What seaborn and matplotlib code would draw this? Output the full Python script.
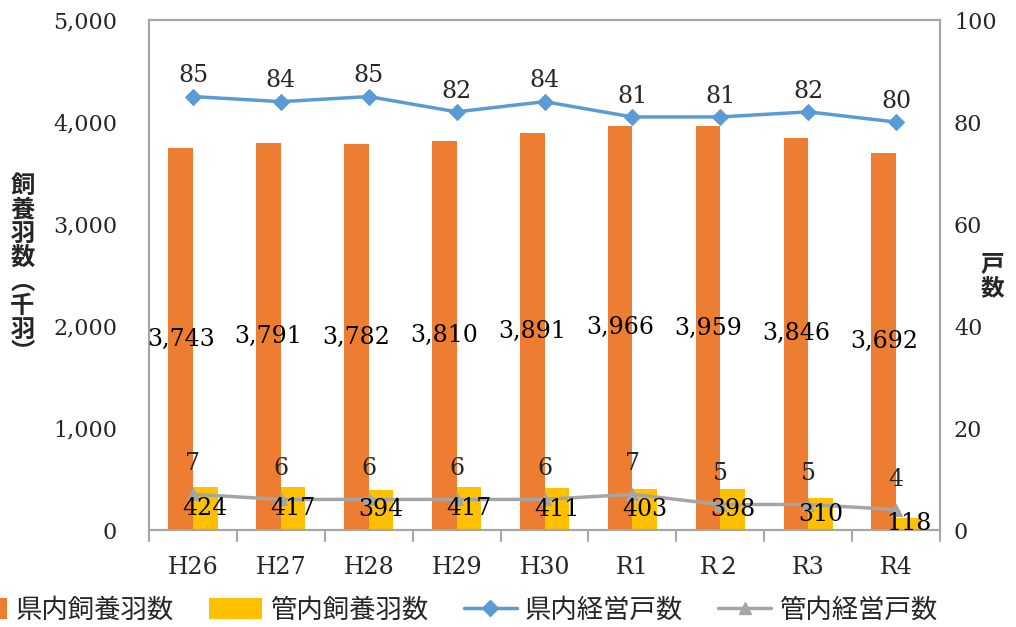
import numpy as np
import pandas as pd
import matplotlib
matplotlib.use("Agg")
import matplotlib.pyplot as plt
import seaborn as sns
from matplotlib.patches import Patch
from matplotlib.lines import Line2D

categories = ["H26", "H27", "H28", "H29", "H30", "R1", "R２", "R3", "R4"]
pref_birds = [3743, 3791, 3782, 3810, 3891, 3966, 3959, 3846, 3692]
local_birds = [424, 417, 394, 417, 411, 403, 398, 310, 118]
pref_farms = [85, 84, 85, 82, 84, 81, 81, 82, 80]
local_farms = [7, 6, 6, 6, 6, 7, 5, 5, 4]
series_names = ["県内飼養羽数", "管内飼養羽数", "県内経営戸数", "管内経営戸数"]

C_OR = "#ED7D31"
C_YE = "#FFC000"
C_BL = "#5B9BD5"
C_GR = "#A5A5A5"
SPINE = "#A6A6A6"

sns.set_theme(style="white")
NUMF = ["DejaVu Serif", "Noto Sans CJK JP"]
JPF = ["Noto Sans CJK JP", "DejaVu Sans"]
plt.rcParams["font.family"] = NUMF

fig = plt.figure(figsize=(10.16, 6.27), dpi=100)
ax = fig.add_axes([0.1467, 0.1547, 0.7785, 0.8133])

df = pd.DataFrame({
    "cat": categories * 2,
    "val": pref_birds + local_birds,
    "series": [series_names[0]] * 9 + [series_names[1]] * 9,
})
sns.barplot(data=df, x="cat", y="val", hue="series", order=categories,
            hue_order=series_names[:2], palette=[C_OR, C_YE], width=0.56,
            saturation=1, ax=ax, legend=False, edgecolor="none")
ax.set_ylim(0, 5000)
ax.set_xlim(-0.5, len(categories) - 0.5)
ax.set_yticks(np.arange(0, 5001, 1000))
ax.set_yticklabels([f"{v:,}" for v in range(0, 5001, 1000)], fontsize=16)
ax.set_xticks(range(len(categories)))
ax.set_xticklabels(categories, fontsize=17)
ax.set_xlabel("")
ax.set_ylabel("")
ax.tick_params(axis="y", length=0, pad=23)
ax.tick_params(axis="x", length=0, pad=19)
for b in np.arange(-0.5, len(categories), 1.0):
    ax.plot([b, b], [0, -0.022], transform=ax.get_xaxis_transform(),
            color=SPINE, lw=1.5, clip_on=False)
for s in ax.spines.values():
    s.set_color(SPINE)
    s.set_linewidth(1.5)

ax2 = ax.twinx()
xs = np.arange(len(categories))
sns.lineplot(x=xs, y=pref_farms, ax=ax2, color=C_BL, lw=2.5, marker="D",
             markersize=8, markeredgecolor=C_BL)
sns.lineplot(x=xs, y=local_farms, ax=ax2, color=C_GR, lw=2.5, marker="^",
             markersize=9, markeredgecolor=C_GR)
ax2.set_ylim(0, 100)
ax2.set_yticks(np.arange(0, 101, 20))
ax2.set_yticklabels([str(v) for v in range(0, 101, 20)], fontsize=16)
ax2.tick_params(axis="y", length=0, pad=10)
ax2.set_ylabel("")
for s in ax2.spines.values():
    s.set_color(SPINE)
    s.set_linewidth(1.5)

# bar labels (drawn above the lines)
for cont, vals in zip(ax.containers, [pref_birds, local_birds]):
    for rect, v in zip(cont, vals):
        ax2.text(rect.get_x() + rect.get_width() / 2, v / 2, f"{v:,}",
                 transform=ax.transData, ha="center", va="center",
                 fontsize=17, color="black", zorder=10)

for x, v in zip(xs, pref_farms):
    ax2.annotate(str(v), (x, v), xytext=(0, 15), textcoords="offset points",
                 ha="center", va="center", fontsize=17, zorder=10)
for x, v in zip(xs, local_farms):
    ax2.annotate(str(v), (x, v), xytext=(0, 22), textcoords="offset points",
                 ha="center", va="center", fontsize=17, zorder=10)

# axis titles (vertical)
fig.text(0.022, 0.57, "\n".join("飼養羽数︵千羽︶"), ha="center", va="center",
         fontsize=17.5, fontweight="bold", family=JPF, linespacing=1.0)
fig.text(0.977, 0.56, "戸\n数", ha="center", va="center",
         fontsize=17, fontweight="bold", family=JPF, linespacing=1.0)

handles = [
    Patch(facecolor=C_OR, edgecolor="none"),
    Patch(facecolor=C_YE, edgecolor="none"),
    Line2D([], [], color=C_BL, lw=2.5, marker="D", markersize=8),
    Line2D([], [], color=C_GR, lw=2.5, marker="^", markersize=9),
]
leg = fig.legend(handles, series_names, loc="center", bbox_to_anchor=(0.439, 0.027),
                 ncol=4, frameon=False, prop={"family": JPF, "size": 19},
                 handlelength=2.0, handleheight=0.9, columnspacing=1.35,
                 handletextpad=0.3)

fig.savefig("out.png", dpi=100)
